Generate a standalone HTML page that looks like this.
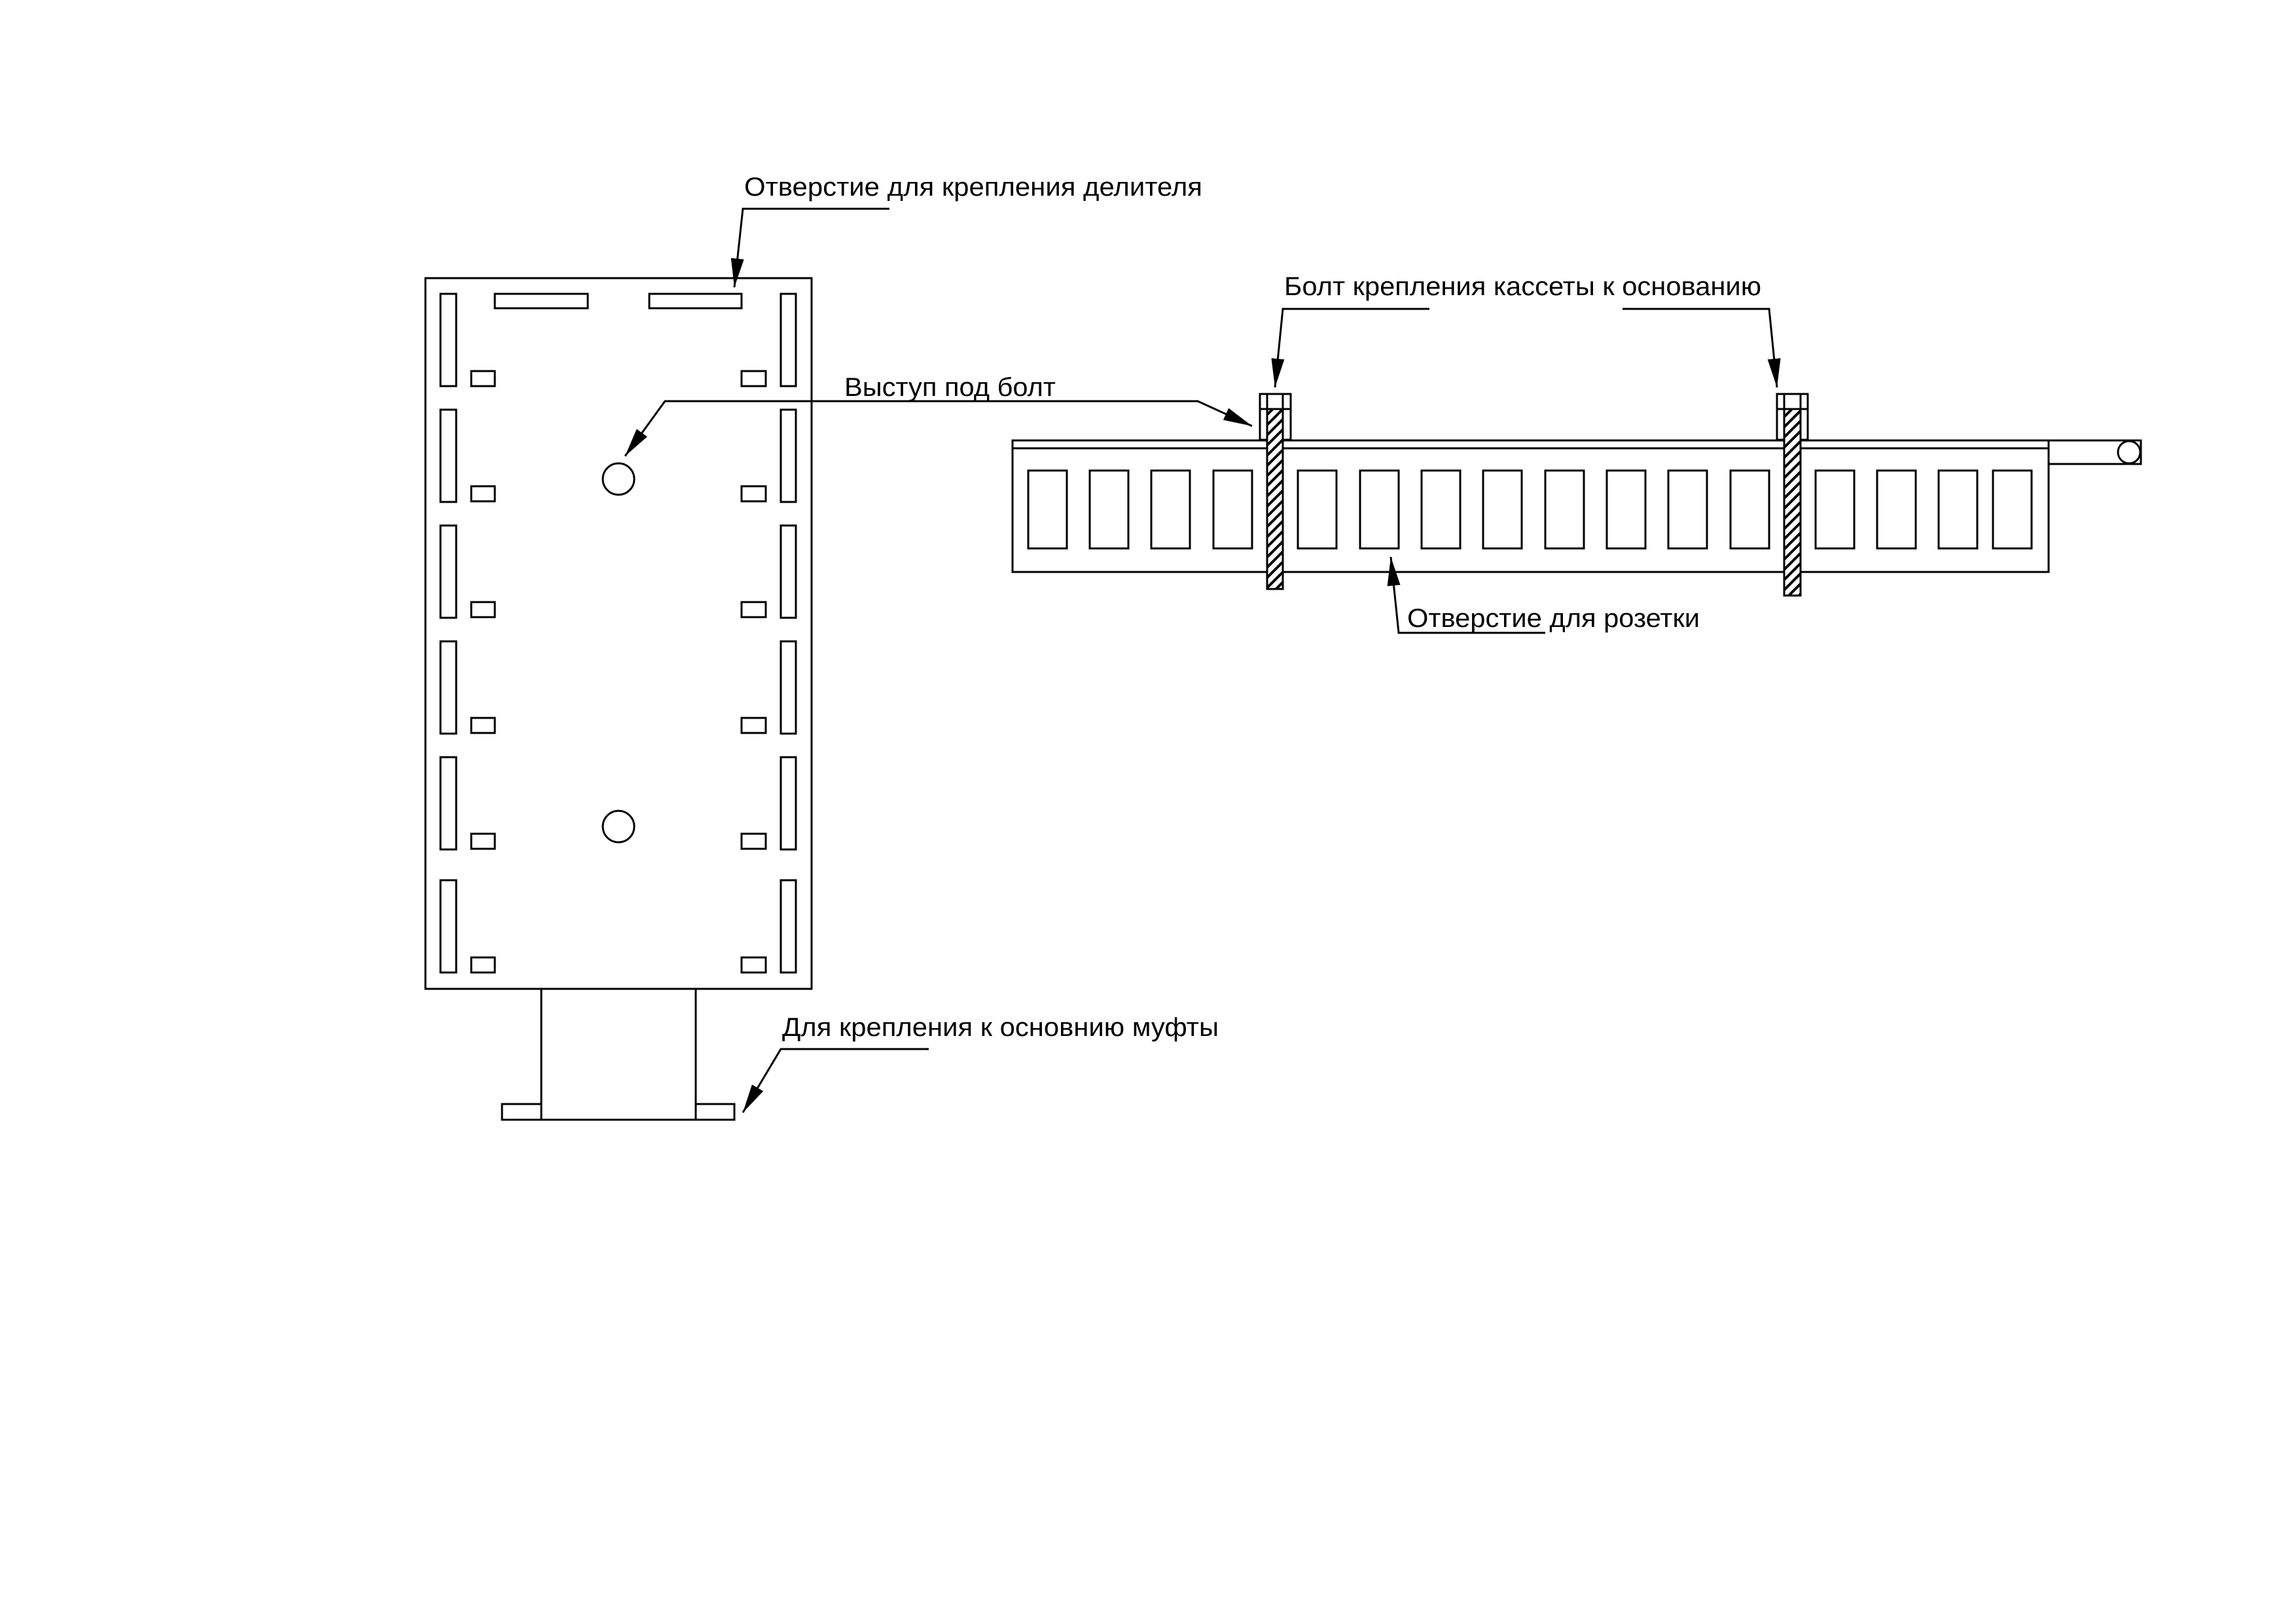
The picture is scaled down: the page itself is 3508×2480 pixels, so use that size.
<!DOCTYPE html>
<html><head><meta charset="utf-8"><style>
html,body{margin:0;padding:0;background:#fff}
svg{display:block}
text{font-family:"Liberation Sans",sans-serif;font-size:40px;fill:#000}
</style></head><body>
<svg width="3508" height="2480" viewBox="0 0 3508 2480" xmlns="http://www.w3.org/2000/svg">
<defs>
<marker id="ar" markerWidth="44" markerHeight="20" refX="44" refY="10" orient="auto" markerUnits="userSpaceOnUse">
<path d="M0,0 L44,10 L0,20 Z" fill="#000"/>
</marker>
<pattern id="h" width="11" height="11" patternUnits="userSpaceOnUse" patternTransform="rotate(45)">
<rect width="11" height="11" fill="#fff"/><rect width="4" height="11" fill="#000"/>
</pattern>
</defs>
<g fill="none" stroke="#000" stroke-width="3">
<rect x="650" y="425" width="590" height="1086"/>
<rect x="756" y="449" width="142" height="22"/>
<rect x="992" y="449" width="141" height="22"/>
<g>
<rect x="673" y="449" width="24" height="141"/><rect x="1193" y="449" width="23" height="141"/>
<rect x="673" y="626" width="24" height="141"/><rect x="1193" y="626" width="23" height="141"/>
<rect x="673" y="803" width="24" height="141"/><rect x="1193" y="803" width="23" height="141"/>
<rect x="673" y="980" width="24" height="141"/><rect x="1193" y="980" width="23" height="141"/>
<rect x="673" y="1157" width="24" height="141"/><rect x="1193" y="1157" width="23" height="141"/>
<rect x="673" y="1345" width="24" height="141"/><rect x="1193" y="1345" width="23" height="141"/>
</g>
<g>
<rect x="720" y="567" width="36" height="23"/><rect x="1133" y="567" width="37" height="23"/>
<rect x="720" y="743" width="36" height="23"/><rect x="1133" y="743" width="37" height="23"/>
<rect x="720" y="920" width="36" height="23"/><rect x="1133" y="920" width="37" height="23"/>
<rect x="720" y="1097" width="36" height="23"/><rect x="1133" y="1097" width="37" height="23"/>
<rect x="720" y="1274" width="36" height="23"/><rect x="1133" y="1274" width="37" height="23"/>
<rect x="720" y="1463" width="36" height="23"/><rect x="1133" y="1463" width="37" height="23"/>
</g>
<ellipse cx="945" cy="732" rx="24" ry="24"/>
<ellipse cx="945" cy="1263" rx="24" ry="24"/>
<rect x="827" y="1511" width="236" height="200"/>
<rect x="767" y="1687" width="60" height="24"/>
<rect x="1063" y="1687" width="59" height="24"/>

<rect x="1547" y="673" width="1583" height="201"/>
<line x1="1547" y1="685" x2="3130" y2="685"/>
<rect x="3130" y="673" width="141" height="36"/>
<circle cx="3253" cy="691" r="17"/>
<g>
<rect x="1571" y="719" width="59" height="119"/><rect x="1665" y="719" width="59" height="119"/>
<rect x="1759" y="719" width="59" height="119"/><rect x="1854" y="719" width="59" height="119"/>
<rect x="1983" y="719" width="59" height="119"/><rect x="2078" y="719" width="59" height="119"/>
<rect x="2172" y="719" width="59" height="119"/><rect x="2266" y="719" width="59" height="119"/>
<rect x="2361" y="719" width="59" height="119"/><rect x="2455" y="719" width="59" height="119"/>
<rect x="2549" y="719" width="59" height="119"/><rect x="2644" y="719" width="59" height="119"/>
<rect x="2774" y="719" width="59" height="119"/><rect x="2868" y="719" width="59" height="119"/>
<rect x="2962" y="719" width="59" height="119"/><rect x="3045" y="719" width="59" height="119"/>
</g>
<rect x="1925" y="602" width="47" height="70" fill="#fff"/>
<line x1="1925" y1="625" x2="1972" y2="625"/>
<line x1="1936" y1="602" x2="1936" y2="625"/><line x1="1960" y1="602" x2="1960" y2="625"/>
<rect x="1936" y="625" width="24" height="275" fill="url(#h)"/>
<rect x="2715" y="602" width="47" height="70" fill="#fff"/>
<line x1="2715" y1="625" x2="2762" y2="625"/>
<line x1="2726" y1="602" x2="2726" y2="625"/><line x1="2751" y1="602" x2="2751" y2="625"/>
<rect x="2726" y="625" width="25" height="285" fill="url(#h)"/>

<polyline points="1359,319 1135,319 1122,439" marker-end="url(#ar)"/>
<polyline points="1830,613 1016,613 955,697" marker-end="url(#ar)"/>
<polyline points="1016,613 1830,613 1913,651" marker-end="url(#ar)"/>
<polyline points="2184,472 1960,472 1948,592" marker-end="url(#ar)"/>
<polyline points="2479,472 2703,472 2715,592" marker-end="url(#ar)"/>
<polyline points="2361,967 2137,967 2125,851" marker-end="url(#ar)"/>
<polyline points="1419,1603 1193,1603 1135,1700" marker-end="url(#ar)"/>
</g>
<text x="1137" y="299" textLength="700" lengthAdjust="spacingAndGlyphs">Отверстие для крепления делителя</text>
<text x="1290" y="605" textLength="323" lengthAdjust="spacingAndGlyphs">Выступ под болт</text>
<text x="1962" y="451" textLength="729" lengthAdjust="spacingAndGlyphs">Болт крепления кассеты к основанию</text>
<text x="2150" y="958" textLength="447" lengthAdjust="spacingAndGlyphs">Отверстие для розетки</text>
<text x="1195" y="1583" textLength="667" lengthAdjust="spacingAndGlyphs">Для крепления к основнию муфты</text>
</svg>
</body></html>
